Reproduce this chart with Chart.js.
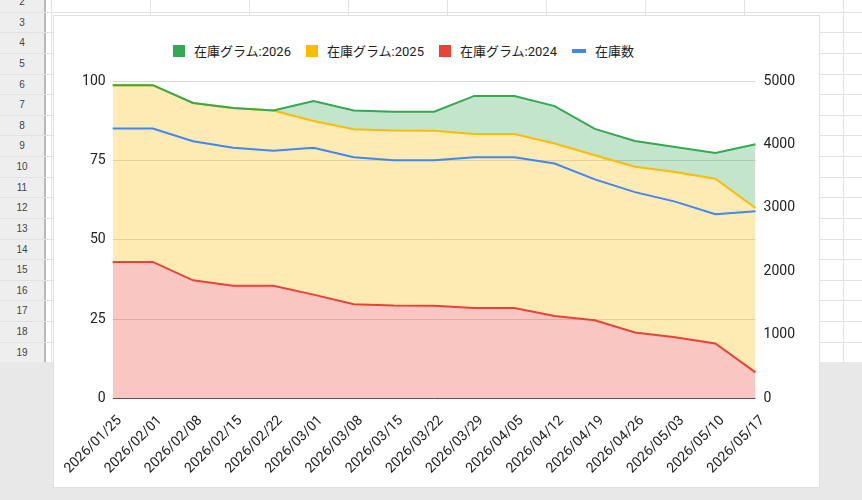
<!DOCTYPE html>
<html>
<head>
<meta charset="utf-8">
<script src="https://cdn.jsdelivr.net/npm/chart.js@4.4.1/dist/chart.umd.min.js"></script>
<style>
  html, body { margin: 0; padding: 0; }
  body { width: 862px; height: 500px; position: relative; overflow: hidden; background: #e8e8e8;
         font-family: Roboto, "Noto Sans CJK JP", sans-serif; }
  #sheet { position: absolute; left: 0; top: 0; width: 862px; height: 362px; background: #fff; overflow: hidden; }
  #rowhead { position: absolute; left: 0; top: 0; width: 44px; height: 362px; background: #eeeeee;
             border-right: 2px solid #b8b8b8; }
  .hl { position: absolute; height: 1px; background: #e2e2e2; }
  .vl { position: absolute; width: 1px; top: 0; height: 362px; background: #e2e2e2; }
  .rn { position: absolute; left: 0; width: 44px; text-align: center; font: 10px "Liberation Sans", Arial, sans-serif;
        color: #444; }
  #card { position: absolute; left: 53px; top: 15px; width: 767px; height: 473px; background: #fff;
          border: 1px solid #e0e0e0; box-sizing: border-box; }
  #legend { position: absolute; left: 119px; top: 25px; display: flex; align-items: center;
            font-size: 13px; color: #222; }
  .item { display: flex; align-items: center; margin-right: 15px; }
  .box { width: 12px; height: 12px; margin-right: 9px; }
  .bar { width: 14px; height: 4px; margin-right: 9px; }
  #wrap { position: absolute; left: 0; top: 0; width: 765px; height: 471px; }
</style>
</head>
<body>
<div id="sheet"><div id="rowhead"></div></div>
<div id="card">
  <div id="legend"></div>
  <div id="wrap"><canvas id="chart"></canvas></div>
</div>
<script>
// weekly dates
var labels = ['2026/01/25', '2026/02/01', '2026/02/08', '2026/02/15', '2026/02/22', '2026/03/01',
  '2026/03/08', '2026/03/15', '2026/03/22', '2026/03/29', '2026/04/05', '2026/04/12',
  '2026/04/19', '2026/04/26', '2026/05/03', '2026/05/10', '2026/05/17'];

// stacked areas (left axis)
var stock2024 = [43, 43, 37.2, 35.5, 35.5, 32.7, 29.7, 29.3, 29.2, 28.5, 28.5, 26, 24.6, 20.8, 19.3, 17.3, 8.2];
var stock2025 = [55.7, 55.7, 55.9, 56, 55.2, 54.7, 55.1, 55.1, 55.1, 54.8, 54.8, 54.3, 52, 52.2, 52, 51.9, 51.8];
var stock2026 = [0, 0, 0, 0, 0, 6.3, 5.9, 5.9, 6, 12, 12, 11.8, 8.3, 8.1, 7.9, 8.1, 20.1];

// line (right axis)
var stockCount = [4250, 4250, 4050, 3950, 3900, 3950, 3800, 3750, 3750, 3800, 3800, 3700, 3450, 3250, 3100, 2900, 2950];

var leftTicks = [0, 25, 50, 75, 100];
var rightTicks = [0, 1000, 2000, 3000, 4000, 5000];

// spreadsheet backdrop
var sheet = document.getElementById('sheet');
var rowhead = document.getElementById('rowhead');
for (var r = 2; r <= 19; r++) {
    var rowTop = 11.7 + (r - 3) * 20.62;
    var line = document.createElement('div');
    line.className = 'hl';
    line.style.left = '0px';
    line.style.width = '862px';
    line.style.top = Math.round(rowTop + 20.62) + 'px';
    sheet.appendChild(line);
    var num = document.createElement('div');
    num.className = 'rn';
    num.style.top = Math.round(rowTop + 5) + 'px';
    num.textContent = r;
    rowhead.appendChild(num);
}
[51, 150, 249, 348, 447, 546, 645, 744, 843].forEach(function (x) {
    var v = document.createElement('div');
    v.className = 'vl';
    v.style.left = x + 'px';
    sheet.appendChild(v);
});

// stacked tops for the library
var top2025 = stock2024.map(function (v, i) { return v + stock2025[i]; });
var top2026 = top2025.map(function (v, i) { return v + stock2026[i]; });

var font = { family: 'Roboto, "Noto Sans CJK JP", sans-serif', size: 14 };

var chart = new Chart(document.getElementById('chart'), {
    type: 'line',
    data: {
        labels: labels,
        datasets: [{
            label: '在庫グラム:2026',
            data: top2026,
            borderColor: '#34a853',
            backgroundColor: 'rgba(52,168,83,0.3)',
            fill: '+1'
        }, {
            label: '在庫グラム:2025',
            data: top2025,
            borderColor: '#fbbc04',
            backgroundColor: 'rgba(251,188,4,0.3)',
            fill: '+1'
        }, {
            label: '在庫グラム:2024',
            data: stock2024,
            borderColor: '#ea4335',
            backgroundColor: 'rgba(234,67,53,0.3)',
            fill: 'origin'
        }, {
            label: '在庫数',
            data: stockCount,
            borderColor: '#4285f4',
            backgroundColor: '#4285f4',
            fill: false,
            yAxisID: 'y1'
        }]
    },
    options: {
        responsive: true,
        maintainAspectRatio: false,
        animation: false,
        elements: {
            point: { radius: 0 },
            line: { borderWidth: 2, tension: 0 }
        },
        layout: { padding: { left: 19, right: 16, top: 65, bottom: 4 } },
        plugins: {
            legend: { display: false },
            tooltip: { enabled: false },
            filler: { drawTime: 'beforeDatasetsDraw' }
        },
        scales: {
            x: {
                grid: { display: false },
                border: { display: false },
                ticks: { autoSkip: false, minRotation: 45, maxRotation: 45, padding: 6, labelOffset: 7,
                         color: '#222', font: font }
            },
            y: {
                position: 'left',
                min: 0,
                max: 100,
                afterBuildTicks: function (s) { s.ticks = leftTicks.map(function (v) { return { value: v }; }); },
                grid: {
                    drawTicks: false,
                    color: function (c) { return c.tick.value === 0 ? '#555' : '#d9d9d9'; }
                },
                border: { display: false },
                ticks: { padding: 7, color: '#222', font: font }
            },
            y1: {
                position: 'right',
                min: 0,
                max: 5000,
                afterBuildTicks: function (s) { s.ticks = rightTicks.map(function (v) { return { value: v }; }); },
                grid: { display: false, drawTicks: false },
                border: { display: false },
                ticks: { padding: 8, color: '#222', font: font,
                         callback: function (v) { return String(v); } }
            }
        }
    }
});

// legend
var legend = document.getElementById('legend');
chart.data.datasets.forEach(function (ds, i) {
    var item = document.createElement('div');
    item.className = 'item';
    var mark = document.createElement('span');
    mark.className = i === 3 ? 'bar' : 'box';
    mark.style.background = ds.borderColor;
    var txt = document.createElement('span');
    txt.textContent = ds.label;
    item.appendChild(mark);
    item.appendChild(txt);
    legend.appendChild(item);
});
</script>
</body>
</html>
